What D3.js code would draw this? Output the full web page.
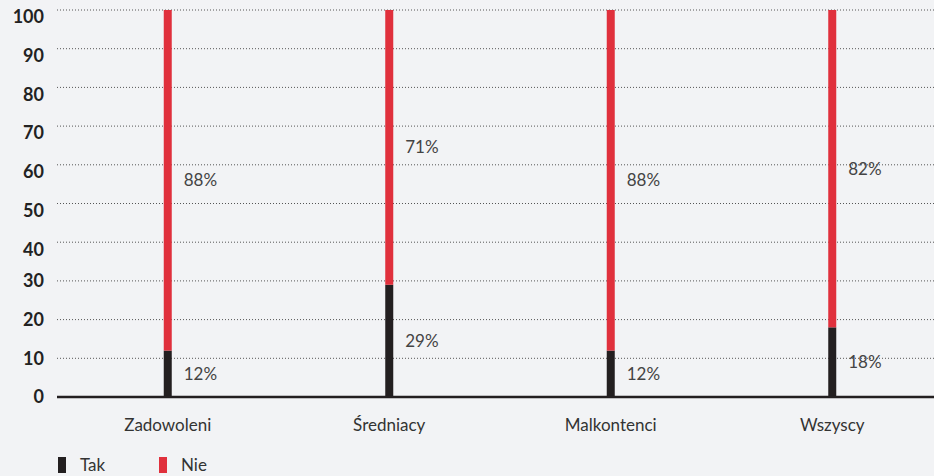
<!DOCTYPE html>
<html>
<head>
<meta charset="utf-8">
<script src="https://cdn.jsdelivr.net/npm/d3@7"></script>
<style>
  body { margin: 0; background: #f2f3f5; }
  text { font-family: Lato, "Noto Sans", sans-serif; }
</style>
</head>
<body>
<script>
var categories = ['Zadowoleni', 'Średniacy', 'Malkontenci', 'Wszyscy'];
var tak = [12, 29, 12, 18];
var nie = [88, 71, 88, 82];
var yTicks = [0, 10, 20, 30, 40, 50, 60, 70, 80, 90, 100];
var seriesNames = ['Tak', 'Nie'];
var colors = ['#231f20', '#e0303c'];

var svg = d3.select('body').append('svg')
  .attr('width', 934)
  .attr('height', 476)
  .style('background', '#f2f3f5');

var x = d3.scaleBand().domain(categories).range([57, 943]);
var y = d3.scaleLinear().domain([0, 100]).range([397, 10]);

// grid
svg.selectAll('line.grid')
  .data(yTicks.filter(function(d) { return d > 0; }))
  .enter().append('line')
    .attr('class', 'grid')
    .attr('x1', 57).attr('x2', 934)
    .attr('y1', function(d) { return y(d); })
    .attr('y2', function(d) { return y(d); })
    .attr('stroke', '#555')
    .attr('stroke-width', 1)
    .attr('stroke-dasharray', '1,2');

// upper tick labels sit just under their gridline in the original
svg.selectAll('text.ytick')
  .data(yTicks)
  .enter().append('text')
    .attr('class', 'ytick')
    .attr('x', 44)
    .attr('y', function(d) { return y(d) + (d >= 40 ? 7 : 0); })
    .attr('dy', '0.35em')
    .attr('text-anchor', 'end')
    .attr('font-size', 18)
    .attr('font-weight', 'bold')
    .attr('fill', '#222')
    .text(function(d) { return d; });

var stacked = d3.stack().keys([0, 1]).value(function(d, k) { return k === 0 ? tak[d] : nie[d]; })(d3.range(categories.length));

var bw = 8;
stacked.forEach(function(layer, k) {
  svg.selectAll('rect.s' + k)
    .data(layer)
    .enter().append('rect')
      .attr('class', 's' + k)
      .attr('x', function(d, i) { return x(categories[i]) + x.bandwidth() / 2 - bw / 2; })
      .attr('width', bw)
      .attr('y', function(d) { return y(d[1]); })
      .attr('height', function(d) { return y(d[0]) - y(d[1]); })
      .attr('fill', colors[k]);

  svg.selectAll('text.l' + k)
    .data(layer)
    .enter().append('text')
      .attr('class', 'l' + k)
      .attr('x', function(d, i) { return x(categories[i]) + x.bandwidth() / 2 + 16; })
      .attr('y', function(d) { return y((d[0] + d[1]) / 2); })
      .attr('dy', '0.35em')
      .attr('font-size', 17)
      .attr('fill', '#444')
      .text(function(d) { return (d[1] - d[0]) + '%'; });
});

// baseline
svg.append('line')
  .attr('x1', 57).attr('x2', 934)
  .attr('y1', y(0)).attr('y2', y(0))
  .attr('stroke', '#231f20')
  .attr('stroke-width', 2.5);

svg.selectAll('text.cat')
  .data(categories)
  .enter().append('text')
    .attr('class', 'cat')
    .attr('x', function(d) { return x(d) + x.bandwidth() / 2; })
    .attr('y', 425)
    .attr('dy', '0.35em')
    .attr('text-anchor', 'middle')
    .attr('font-size', 17)
    .attr('fill', '#333')
    .text(function(d) { return d; });

// legend
var leg = svg.selectAll('g.leg')
  .data(seriesNames)
  .enter().append('g')
    .attr('class', 'leg')
    .attr('transform', function(d, i) { return 'translate(' + (58 + i * 101) + ',457)'; });
leg.append('rect')
  .attr('width', 8).attr('height', 16)
  .attr('fill', function(d, i) { return colors[i]; });
leg.append('text')
  .attr('x', 22).attr('y', 8)
  .attr('dy', '0.35em')
  .attr('font-size', 17)
  .attr('fill', '#333')
  .text(function(d) { return d; });
</script>
</body>
</html>
